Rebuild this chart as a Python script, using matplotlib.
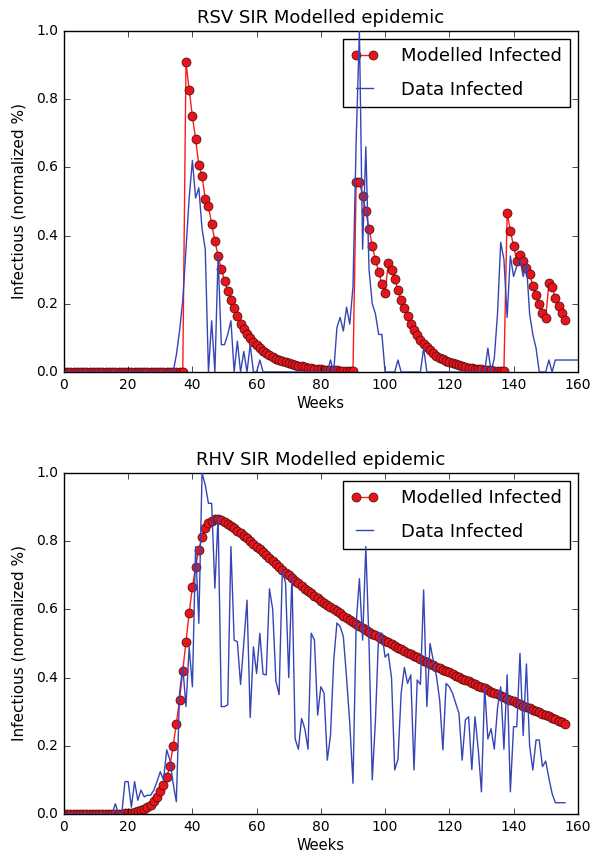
import numpy as np
import matplotlib
matplotlib.use('Agg')
import matplotlib.pyplot as plt

# RSV: modelled infected (weekly, weeks 0..156)
rsv_model = [0.0] * 38 + [
    0.908, 0.827, 0.75, 0.683, 0.607, 0.576, 0.507, 0.487, 0.434, 0.384,
    0.34, 0.302, 0.268, 0.236, 0.211, 0.188, 0.164, 0.141, 0.126, 0.111,
    0.099, 0.088, 0.078, 0.07, 0.062, 0.055, 0.049, 0.044, 0.039, 0.035,
    0.031, 0.028, 0.025, 0.022, 0.02, 0.018, 0.016, 0.014, 0.013, 0.011,
    0.01, 0.009, 0.008, 0.007, 0.006, 0.006, 0.005, 0.005, 0.004, 0.004,
    0.003, 0.003, 0.003,
    0.558, 0.558, 0.516, 0.472, 0.419, 0.37, 0.328, 0.294, 0.258, 0.232,
    0.32, 0.30, 0.272, 0.241, 0.211, 0.188, 0.164, 0.141, 0.123, 0.108,
    0.094, 0.082, 0.072, 0.063, 0.055, 0.048, 0.042, 0.037, 0.032, 0.028,
    0.025, 0.022, 0.019, 0.017, 0.015, 0.013, 0.011, 0.01, 0.009, 0.008,
    0.007, 0.006, 0.005, 0.004, 0.004, 0.003, 0.003,
    0.467, 0.414, 0.37, 0.326, 0.343, 0.326, 0.305, 0.287, 0.253, 0.226,
    0.2, 0.174, 0.157, 0.26, 0.25, 0.218, 0.194, 0.172, 0.152]

# RSV: data infected (weekly, weeks 0..160)
rsv_data = [0.0] * 35 + [
    0.05, 0.12, 0.21, 0.36, 0.51, 0.62, 0.51, 0.54, 0.42, 0.36,
    0.0, 0.15, 0.0, 0.34, 0.08, 0.08, 0.11, 0.15, 0.0, 0.09,
    0.0, 0.06, 0.0, 0.08, 0.0, 0.0, 0.035] + [0.0] * 21 + [
    0.035, 0.0, 0.13, 0.16, 0.12, 0.19, 0.14, 0.25, 0.68, 1.0,
    0.36, 0.66, 0.3, 0.2, 0.17, 0.11, 0.11, 0.0, 0.0, 0.0,
    0.0, 0.035] + [0.0] * 7 + [0.07] + [0.0] * 19 + [
    0.07, 0.0, 0.04, 0.17, 0.38, 0.33, 0.16, 0.34, 0.28, 0.31,
    0.33, 0.28, 0.32, 0.17, 0.11, 0.07, 0.0, 0.0, 0.0, 0.035,
    0.0] + [0.035] * 8

# RHV: modelled infected (weekly, weeks 0..156)
rhv_model = [0.0] * 18 + [
    0.001, 0.002, 0.003, 0.004, 0.006, 0.008, 0.011, 0.015, 0.02, 0.027,
    0.037, 0.05, 0.066, 0.085, 0.108, 0.14, 0.2, 0.265, 0.335, 0.42,
    0.505, 0.59, 0.665, 0.725, 0.775, 0.812, 0.84, 0.853, 0.86, 0.864,
    0.865, 0.862, 0.857, 0.851, 0.845, 0.838, 0.831, 0.824, 0.816, 0.808,
    0.8, 0.792, 0.784, 0.776, 0.768, 0.76, 0.751, 0.742, 0.733, 0.724,
    0.716, 0.708, 0.7, 0.692, 0.684, 0.676, 0.668, 0.661, 0.654, 0.647,
    0.64, 0.633, 0.626, 0.62, 0.613, 0.607, 0.6, 0.594, 0.588, 0.582,
    0.576, 0.57, 0.564, 0.558, 0.552, 0.546, 0.54, 0.535, 0.529, 0.524,
    0.518, 0.513, 0.508, 0.503, 0.498, 0.493, 0.488, 0.483, 0.478, 0.473,
    0.468, 0.463, 0.459, 0.454, 0.45, 0.445, 0.441, 0.436, 0.432, 0.428,
    0.423, 0.419, 0.415, 0.41, 0.406, 0.402, 0.397, 0.393, 0.389, 0.385,
    0.38, 0.376, 0.372, 0.368, 0.364, 0.359, 0.355, 0.351, 0.347, 0.343,
    0.338, 0.334, 0.33, 0.326, 0.322, 0.318, 0.314, 0.31, 0.306, 0.302,
    0.298, 0.294, 0.29, 0.286, 0.282, 0.278, 0.274, 0.27, 0.265]

# RHV: data infected (weekly, weeks 0..156)
rhv_data = [0.0] * 16 + [
    0.03, 0.0, 0.0, 0.095, 0.095, 0.02, 0.095, 0.04, 0.07, 0.05,
    0.055, 0.055, 0.07, 0.095, 0.124, 0.1, 0.188, 0.158, 0.09, 0.036,
    0.354, 0.432, 0.315, 0.49, 0.373, 0.784, 0.559, 1.0, 0.965, 0.911,
    0.911, 0.662, 0.872, 0.315, 0.315, 0.32, 0.784, 0.51, 0.505, 0.38,
    0.5, 0.627, 0.283, 0.49, 0.412, 0.53, 0.41, 0.408, 0.66, 0.6,
    0.39, 0.35, 0.716, 0.677, 0.4, 0.7, 0.22, 0.19, 0.28, 0.25,
    0.19, 0.53, 0.51, 0.29, 0.373, 0.354, 0.158, 0.23, 0.45, 0.56,
    0.55, 0.52, 0.4, 0.266, 0.09, 0.56, 0.69, 0.51, 0.784, 0.5,
    0.1, 0.276, 0.53, 0.53, 0.46, 0.47, 0.4, 0.129, 0.16, 0.354,
    0.43, 0.383, 0.408, 0.129, 0.393, 0.38, 0.657, 0.315, 0.5, 0.45,
    0.403, 0.334, 0.188, 0.383, 0.373, 0.354, 0.325, 0.295, 0.158, 0.276,
    0.285, 0.13, 0.285, 0.19, 0.065, 0.373, 0.22, 0.25, 0.19, 0.31,
    0.373, 0.19, 0.408, 0.065, 0.256, 0.256, 0.471, 0.23, 0.44, 0.2,
    0.129, 0.217, 0.217, 0.139, 0.155, 0.105, 0.06, 0.033, 0.033, 0.033,
    0.033]

panels = [
    ('RSV SIR Modelled epidemic', rsv_model, rsv_data),
    ('RHV SIR Modelled epidemic', rhv_model, rhv_data),
]

plt.style.use('classic')
plt.rcParams['figure.facecolor'] = 'white'
plt.rcParams['savefig.facecolor'] = 'white'

fig = plt.figure(figsize=(5.92, 8.59), dpi=100)
rects = [[0.108, 0.567, 0.868, 0.397], [0.108, 0.0524, 0.868, 0.397]]

for rect, (title, model, data) in zip(rects, panels):
    ax = fig.add_axes(rect)
    ax.plot(np.arange(len(model)), model, 'o-', color='#ff1a1a', lw=1.0,
            markerfacecolor='#e8141c', markeredgecolor='#3a0a0a',
            markeredgewidth=0.5, markersize=6.5, label='Modelled Infected')
    ax.plot(np.arange(len(data)), data, '-', color='#3545b5', lw=1.0,
            label='Data Infected', zorder=6)
    ax.set_xlim(0, 160)
    ax.set_ylim(0, 1.0)
    ax.set_xticks(np.arange(0, 161, 20))
    ax.set_yticks(np.arange(0, 1.01, 0.2))
    ax.tick_params(labelsize=10)
    ax.set_title(title, fontsize=13, pad=6)
    ax.set_xlabel('Weeks', fontsize=10.5, labelpad=3)
    ax.set_ylabel('Infectious (normalized %)', fontsize=11, labelpad=7)
    leg = ax.legend(loc='upper right', fontsize=13, numpoints=2,
                    labelspacing=0.85, borderpad=0.45, handlelength=1.5,
                    handletextpad=1.25, borderaxespad=0.45)
    leg.set_zorder(5)

fig.savefig('out.png', dpi=100)
